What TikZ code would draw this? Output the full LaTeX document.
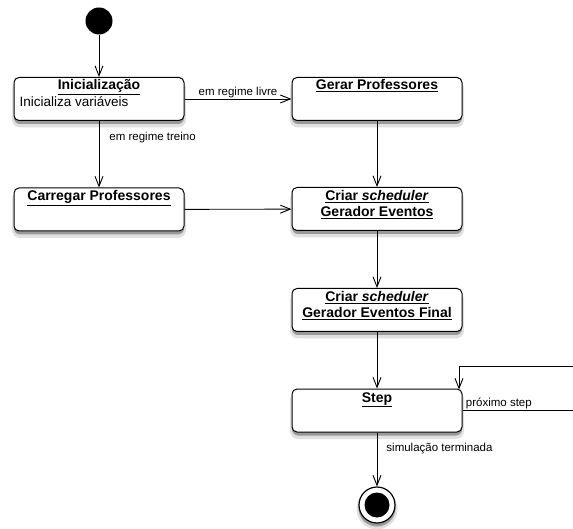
\documentclass[tikz,border=0pt]{standalone}
\usepackage{fontspec}
\setmainfont{Liberation Sans}
\usetikzlibrary{arrows.meta}
\begin{document}
\begin{tikzpicture}[x=1pt,y=-1pt,
  state/.style={draw,line width=1pt,rounded corners=5pt,fill=white,minimum width=170pt,minimum height=43pt,inner sep=0pt},
  shOut/.style={fill=black!12,rounded corners=8pt,minimum width=174pt,minimum height=47pt,inner sep=0pt},
  shIn/.style={fill=black!40,rounded corners=6pt,minimum width=170pt,minimum height=43pt,inner sep=0pt},
  ttl/.style={font=\bfseries\fontsize{14}{16}\selectfont,inner sep=0pt,anchor=base},
  body/.style={font=\fontsize{13.5}{16}\selectfont,inner sep=0pt,anchor=base west},
  lbl/.style={font=\fontsize{11.5}{13}\selectfont,inner sep=1pt},
  arr/.style={line width=0.9pt,-{Straight Barb[length=10pt,width=8pt]}},
  ln/.style={line width=0.9pt}]
\useasboundingbox (0,0) rectangle (573,529);
% shadows (drawn first, below the states)
\node[shOut] (initSo) at (99,104) {};
\node[shIn] (initSi) at (99,102.5) {};
\node[shOut] (gerarSo) at (377,104) {};
\node[shIn] (gerarSi) at (377,102.5) {};
\node[shOut] (carrSo) at (99,214.5) {};
\node[shIn] (carrSi) at (99,213) {};
\node[shOut] (cr1So) at (377,214) {};
\node[shIn] (cr1Si) at (377,212.5) {};
\node[shOut] (cr2So) at (377,315) {};
\node[shIn] (cr2Si) at (377,313.5) {};
\node[shOut] (stepSo) at (377,415.5) {};
\node[shIn] (stepSi) at (377,414) {};
\node[circle,fill=black!12,minimum size=41pt,inner sep=0pt] (finSo) at (377,509) {};
\node[circle,fill=black!40,minimum size=37pt,inner sep=0pt] (finSi) at (377,508) {};
% initial
\node[circle,fill=black,minimum size=27pt,inner sep=0pt] (start) at (99,21) {};
% states
\node[state] (init) at (99,99) {};
\node[ttl] (initT) at ([yshift=-13pt]init.north) {\underline{Inicialização}};
\node[body] (initB) at ([xshift=6pt,yshift=-30pt]init.north west) {Inicializa variáveis};
\node[state] (gerar) at (377,99) {};
\node[ttl] (gerarT) at ([yshift=-13pt]gerar.north) {\underline{Gerar Professores}};
\node[state] (carr) at (99,209.5) {};
\node[ttl] (carrT) at ([yshift=-13pt]carr.north) {\underline{Carregar Professores}};
\node[state] (cr1) at (377,209) {};
\node[ttl] (cr1T) at ([yshift=-13.5pt]cr1.north) {\underline{Criar \textit{scheduler}}};
\node[ttl] (cr1U) at ([yshift=-29.5pt]cr1.north) {\underline{Gerador Eventos}};
\node[state] (cr2) at (377,310) {};
\node[ttl] (cr2T) at ([yshift=-13.5pt]cr2.north) {\underline{Criar \textit{scheduler}}};
\node[ttl] (cr2U) at ([yshift=-29.5pt]cr2.north) {\underline{Gerador Eventos Final}};
\node[state] (step) at (377,410.5) {};
\node[ttl] (stepT) at ([yshift=-13.5pt]step.north) {\underline{Step}};
% final
\node[circle,draw,line width=1.2pt,fill=white,minimum size=36pt,inner sep=0pt] (fin) at (377,505) {};
\node[circle,fill=black,minimum size=25pt,inner sep=0pt] (finI) at (fin) {};
% connectors
\draw[arr] (start) -- (init);
\draw[arr] (init) -- node[lbl,above] (lLivre) {em regime livre} (gerar);
\draw[arr] (init) -- node[lbl,right,pos=0.25,xshift=9pt] (lTreino) {em regime treino} (carr);
\draw[arr] (carr) -- (cr1);
\draw[arr] (gerar) -- (cr1);
\draw[arr] (cr1) -- (cr2);
\draw[arr] (cr2) -- (step);
\coordinate (loopA) at (573,410);
\coordinate (loopB) at (573,366);
\coordinate (stepIn) at (459,389.5);
\draw[ln] (step.east |- loopA) -- node[lbl,pos=0,anchor=south west,xshift=2pt] (lProx) {próximo step} (loopA);
\draw[arr] (loopB) -| (stepIn);
\draw[arr] (step) -- node[lbl,right,pos=0.3,xshift=8pt] (lSim) {simulação terminada} (fin);
\end{tikzpicture}
\end{document}
